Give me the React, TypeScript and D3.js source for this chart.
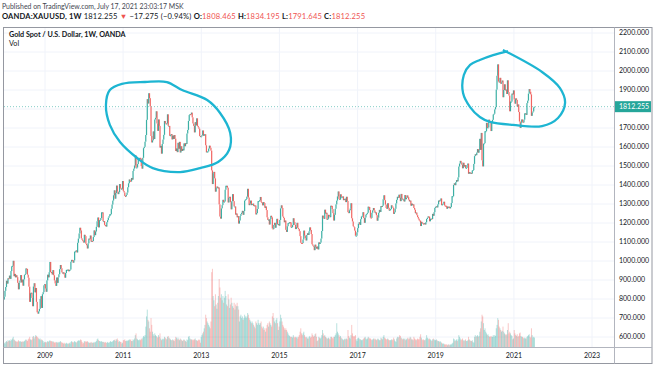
import React from 'react';
import * as d3 from 'd3';

const width = 654;
const height = 366;

// weekly closes of OANDA:XAUUSD, one value per week (Friday), first week ends 2007-12-14
const firstWeek = '2007-12-14';
const firstOpen = 803;

const close2007 = [797, 812, 843];
const close2008 = [
  863, 896, 881, 909, 908, 923, 906, 947, 972, 975, 1001, 920, 932,
  914, 925, 915, 885, 851, 886, 897, 926, 887, 902, 870, 903, 926,
  932, 961, 958, 928, 912, 865, 785, 830, 833, 806, 762, 866, 883,
  835, 858, 785, 730, 723, 735, 748, 800, 815, 753, 825, 836, 872,
];
const close2009 = [
  878, 855, 838, 898, 928, 914, 941, 995, 942, 940, 929, 952, 925,
  898, 882, 869, 913, 885, 914, 930, 957, 979, 962, 940, 934, 940,
  929, 912, 937, 953, 954, 955, 946, 952, 955, 996, 1006, 1004, 991,
  1003, 1049, 1051, 1056, 1045, 1096, 1118, 1145, 1175, 1161, 1119, 1111, 1104,
];
const close2010 = [
  1097, 1138, 1131, 1091, 1083, 1066, 1093, 1118, 1117, 1134, 1102, 1106, 1105,
  1126, 1161, 1136, 1155, 1180, 1209, 1229, 1177, 1214, 1216, 1226, 1256, 1256,
  1209, 1210, 1190, 1189, 1181, 1204, 1215, 1228, 1236, 1246, 1246, 1275, 1297,
  1318, 1346, 1372, 1328, 1358, 1397, 1366, 1352, 1362, 1405, 1385, 1378, 1380, 1421,
];
const close2011 = [
  1369, 1361, 1342, 1340, 1348, 1360, 1388, 1409, 1429, 1421, 1419, 1437,
  1428, 1474, 1486, 1503, 1556, 1491, 1492, 1510, 1536, 1542, 1543, 1539, 1500,
  1486, 1543, 1594, 1601, 1628, 1663, 1743, 1852, 1829, 1883, 1857, 1813, 1658, 1624,
  1635, 1682, 1642, 1745, 1754, 1788, 1724, 1685, 1745, 1711, 1597, 1606, 1565,
];
const close2012 = [
  1616, 1639, 1664, 1737, 1725, 1724, 1724, 1772, 1711, 1711, 1659, 1662, 1668,
  1640, 1660, 1642, 1663, 1644, 1579, 1592, 1573, 1622, 1591, 1627, 1571, 1604,
  1579, 1590, 1582, 1619, 1604, 1620, 1616, 1671, 1690, 1737, 1768, 1773, 1772,
  1781, 1756, 1724, 1711, 1677, 1731, 1714, 1751, 1711, 1704, 1696, 1658, 1656,
];
const close2013 = [
  1656, 1662, 1687, 1659, 1667, 1667, 1609, 1572, 1576, 1577, 1592, 1607, 1596,
  1581, 1477, 1405, 1462, 1469, 1435, 1365, 1386, 1392, 1383, 1387, 1298, 1234,
  1223, 1277, 1294, 1322, 1310, 1313, 1375, 1396, 1396, 1386, 1308, 1333, 1338,
  1309, 1272, 1315, 1352, 1315, 1287, 1287, 1244, 1250, 1230, 1236, 1197, 1213,
];
const close2014 = [
  1237, 1247, 1254, 1264, 1243, 1263, 1318, 1323, 1326, 1339, 1380, 1334, 1294,
  1302, 1318, 1294, 1300, 1302, 1290, 1293, 1292, 1245, 1252, 1274, 1315, 1316,
  1320, 1337, 1310, 1307, 1293, 1310, 1305, 1280, 1287, 1268, 1230, 1216, 1218,
  1192, 1221, 1238, 1230, 1171, 1168, 1190, 1201, 1175, 1191, 1222, 1195, 1195,
];
const close2015 = [
  1186, 1216, 1277, 1293, 1279, 1234, 1227, 1204, 1213, 1164, 1153, 1183, 1199,
  1201, 1204, 1203, 1177, 1179, 1189, 1225, 1205, 1190, 1168, 1179, 1201, 1173,
  1168, 1157, 1131, 1096, 1095, 1094, 1113, 1160, 1134, 1121, 1108, 1137, 1146,
  1137, 1156, 1177, 1163, 1142, 1088, 1081, 1076, 1057, 1086, 1075, 1065, 1076,
];
const close2016 = [
  1061, 1098, 1090, 1097, 1118, 1158, 1239, 1227, 1222, 1270, 1250, 1254, 1217,
  1222, 1243, 1235, 1231, 1291, 1290, 1273, 1252, 1213, 1243, 1275, 1298, 1318,
  1340, 1366, 1327, 1323, 1351, 1335, 1336, 1340, 1320, 1326, 1328, 1310, 1338, 1316,
  1257, 1252, 1267, 1276, 1304, 1225, 1208, 1183, 1178, 1160, 1133, 1133, 1151,
];
const close2017 = [
  1173, 1196, 1204, 1190, 1220, 1234, 1238, 1257, 1226, 1201, 1229, 1244, 1248,
  1254, 1286, 1284, 1268, 1228, 1227, 1254, 1267, 1279, 1266, 1254, 1256, 1241,
  1212, 1228, 1254, 1269, 1258, 1289, 1285, 1291, 1325, 1346, 1320, 1297, 1279,
  1275, 1304, 1280, 1266, 1269, 1274, 1293, 1287, 1280, 1248, 1256, 1275, 1303,
];
const close2018 = [
  1322, 1338, 1333, 1349, 1333, 1315, 1353, 1330, 1323, 1324, 1313, 1347, 1325,
  1332, 1345, 1336, 1323, 1314, 1318, 1291, 1302, 1294, 1298, 1279, 1270, 1252,
  1255, 1241, 1231, 1223, 1214, 1212, 1184, 1206, 1201, 1197, 1194, 1199, 1192,
  1204, 1221, 1227, 1235, 1233, 1209, 1222, 1223, 1221, 1248, 1238, 1257, 1280,
];
const close2019 = [
  1285, 1288, 1282, 1298, 1318, 1314, 1322, 1329, 1294, 1298, 1302, 1312, 1292,
  1291, 1290, 1275, 1286, 1280, 1286, 1277, 1284, 1305, 1341, 1341, 1400, 1409,
  1399, 1415, 1426, 1419, 1440, 1497, 1513, 1527, 1520, 1507, 1488, 1517, 1497,
  1505, 1489, 1490, 1505, 1513, 1459, 1468, 1462, 1464, 1460, 1476, 1479, 1511,
];
const close2020 = [
  1552, 1562, 1557, 1571, 1589, 1570, 1584, 1643, 1585, 1674, 1530, 1498, 1617,
  1620, 1683, 1683, 1727, 1700, 1703, 1744, 1735, 1730, 1684, 1730, 1743, 1771,
  1775, 1798, 1810, 1902, 1975, 2035, 1944, 1940, 1964, 1933, 1940, 1950, 1862,
  1900, 1930, 1899, 1902, 1879, 1951, 1889, 1871, 1788, 1839, 1839, 1881, 1877,
];
const close2021 = [
  1898, 1850, 1828, 1856, 1848, 1813, 1824, 1784, 1734, 1700, 1727, 1745, 1733,
  1729, 1744, 1777, 1777, 1769, 1831, 1844, 1881, 1905, 1891, 1877, 1764, 1781,
  1787, 1808, 1812.255,
];

// weekly volume (relative units)
const vol2007 = [6, 5, 4];
const vol2008 = [
  6, 7, 6, 8, 7, 8, 7, 9, 8, 10, 12, 9, 8, 7, 6, 7, 6, 8, 7, 6, 7, 6, 6, 7, 6, 7,
  8, 9, 8, 7, 9, 10, 12, 9, 8, 9, 12, 13, 10, 12, 14, 13, 12, 11, 10, 9, 10, 8, 9, 8, 7, 5,
];
const vol2009 = [
  6, 6, 5, 6, 7, 6, 7, 8, 7, 7, 6, 7, 6, 5, 6, 5, 6, 5, 6, 5, 6, 7, 6, 5, 5, 4,
  5, 4, 4, 5, 4, 4, 4, 5, 4, 6, 7, 6, 5, 6, 7, 6, 5, 6, 7, 8, 7, 8, 9, 8, 6, 4,
];
const vol2010 = [
  5, 7, 6, 7, 6, 7, 6, 5, 5, 5, 6, 5, 5, 5, 6, 5, 6, 7, 9, 10, 8, 7, 7, 6, 7, 6,
  6, 6, 5, 6, 5, 5, 6, 5, 5, 6, 7, 6, 6, 7, 8, 8, 9, 7, 9, 10, 8, 6, 7, 6, 6, 4, 5,
];
const vol2011 = [
  8, 8, 9, 7, 7, 8, 7, 8, 9, 8, 9, 7, 7, 9, 8, 10, 14, 16, 10, 9, 8, 8, 9, 8, 10,
  9, 11, 13, 12, 14, 24, 36, 44, 32, 30, 22, 18, 34, 26, 18, 15, 13, 16, 14, 13, 12, 11, 14, 12, 16, 10, 8,
];
const vol2012 = [
  9, 10, 9, 12, 11, 10, 9, 12, 13, 11, 10, 9, 8, 8, 9, 8, 7, 9, 12, 11, 9, 11, 9, 8, 10, 9,
  8, 7, 8, 9, 8, 7, 6, 9, 8, 12, 13, 10, 9, 9, 8, 9, 8, 9, 10, 8, 8, 7, 8, 9, 8, 5,
];
const vol2013 = [
  12, 14, 16, 18, 22, 26, 38, 34, 30, 28, 26, 24, 22, 30, 88, 92, 60, 55, 48, 62, 50, 45, 52, 60, 80, 70,
  58, 62, 55, 60, 52, 58, 66, 60, 50, 48, 62, 56, 46, 50, 58, 52, 48, 46, 52, 44, 50, 48, 52, 48, 44, 30,
];
const vol2014 = [
  36, 38, 34, 36, 32, 34, 38, 36, 34, 36, 40, 38, 34, 32, 30, 28, 30, 28, 26, 24, 22, 30, 28, 26, 32, 28,
  26, 28, 30, 24, 22, 24, 20, 22, 18, 22, 26, 28, 24, 30, 28, 26, 24, 36, 40, 34, 30, 28, 32, 34, 28, 20,
];
const vol2015 = [
  24, 30, 38, 34, 30, 26, 24, 22, 20, 22, 20, 18, 16, 14, 13, 12, 12, 12, 11, 14, 12, 11, 12, 11, 12, 10,
  12, 14, 18, 22, 16, 14, 16, 18, 14, 12, 11, 12, 10, 10, 12, 13, 11, 12, 16, 14, 12, 13, 15, 16, 12, 7,
];
const vol2016 = [
  8, 12, 11, 10, 11, 14, 20, 16, 13, 14, 12, 11, 10, 10, 11, 10, 9, 12, 12, 11, 10, 12, 12, 14, 16, 28,
  18, 16, 14, 12, 13, 11, 10, 9, 8, 9, 10, 9, 10, 9, 20, 13, 11, 10, 14, 26, 16, 13, 12, 13, 14, 9, 7,
];
const vol2017 = [
  10, 11, 10, 9, 9, 8, 8, 9, 10, 11, 12, 10, 9, 10, 12, 11, 10, 10, 9, 8, 9, 10, 9, 10, 9, 8,
  9, 10, 9, 8, 8, 11, 10, 9, 12, 14, 11, 10, 9, 9, 10, 9, 8, 8, 8, 9, 8, 9, 11, 9, 7, 6,
];
const vol2018 = [
  10, 12, 11, 12, 14, 13, 11, 10, 9, 10, 9, 10, 8, 9, 10, 11, 9, 10, 12, 11, 9, 9, 8, 12, 10, 9,
  8, 9, 10, 9, 9, 12, 15, 11, 9, 8, 9, 8, 8, 10, 14, 11, 10, 9, 10, 9, 8, 7, 9, 10, 9, 8,
];
const vol2019 = [
  8, 9, 8, 7, 7, 6, 7, 6, 5, 4, 4, 4, 3, 3, 3, 3, 2, 3, 3, 2, 3, 3, 4, 5, 10, 9,
  7, 8, 9, 7, 9, 14, 12, 10, 8, 9, 10, 8, 7, 8, 9, 7, 7, 8, 12, 9, 8, 7, 7, 8, 6, 5,
];
const vol2020 = [
  12, 14, 12, 13, 14, 12, 13, 18, 22, 30, 38, 36, 28, 20, 22, 18, 16, 14, 15, 13, 12, 12, 13, 12, 12, 14,
  12, 14, 13, 22, 26, 34, 32, 24, 22, 20, 18, 19, 24, 18, 16, 15, 14, 15, 20, 28, 16, 18, 16, 14, 13, 9,
];
const vol2021 = [
  10, 20, 16, 14, 13, 15, 12, 13, 16, 17, 13, 12, 12, 11, 10, 11, 10, 10, 12, 13, 14, 15, 12, 11, 22, 14,
  11, 12, 11,
];

const closes = [
  ...close2007, ...close2008, ...close2009, ...close2010, ...close2011, ...close2012, ...close2013,
  ...close2014, ...close2015, ...close2016, ...close2017, ...close2018, ...close2019, ...close2020, ...close2021,
];
const volumes = [
  ...vol2007, ...vol2008, ...vol2009, ...vol2010, ...vol2011, ...vol2012, ...vol2013,
  ...vol2014, ...vol2015, ...vol2016, ...vol2017, ...vol2018, ...vol2019, ...vol2020, ...vol2021,
];

const yearTicks = [2009, 2011, 2013, 2015, 2017, 2019, 2021, 2023];
const priceTicks = [600, 700, 800, 900, 1000, 1100, 1200, 1300, 1400, 1500, 1600, 1700, 1800, 1900, 2000, 2100, 2200];
const lastPrice = 1812.255;

// hand-drawn annotation loops, [year fraction, price]
const loop2011 = [
  [2012.12, 1942], [2012.51, 1900], [2013.15, 1847], [2013.48, 1779], [2013.74, 1674],
  [2013.71, 1584], [2013.43, 1521], [2012.97, 1489], [2012.46, 1468], [2011.76, 1489],
  [2011.36, 1542], [2010.92, 1626], [2010.66, 1716], [2010.56, 1821], [2010.66, 1900],
  [2010.97, 1932], [2011.56, 1942],
];
const loop2020 = [
  [2020.72, 2111], [2021.72, 1995], [2022.18, 1910], [2022.31, 1832], [2022.13, 1753],
  [2021.72, 1710], [2020.98, 1716], [2020.39, 1732], [2020.13, 1758], [2019.88, 1810],
  [2019.70, 1884], [2019.72, 1979], [2019.88, 2032], [2020.13, 2058], [2020.47, 2084],
  [2020.85, 2105],
];

const pane = { left: 4, right: 614, top: 28, bottom: 347 };
const up = '#26a69a';
const down = '#ef5350';
const font = "Lato, 'Noto Sans', sans-serif";
const text = '#131722';

const fromYear = (t: number) => {
  const yr = Math.floor(t);
  return new Date(Date.UTC(yr, 0, 1) + (t - yr) * 365.25 * 864e5);
};

const App = () => {
  const x = d3.scaleUtc()
    .domain([new Date(Date.UTC(2009, 0, 1)), new Date(Date.UTC(2023, 0, 1))])
    .range([45, 592]);
  const y = d3.scaleLinear().domain([600, 2200]).range([337, 33]);
  const v = d3.scaleLinear().domain([0, 100]).range([0, 85]);

  const start = d3.utcParse('%Y-%m-%d')(firstWeek) as Date;
  const candles = closes.map((c, i) => {
    const mon = d3.utcDay.offset(start, i * 7 - 4);
    const o = i === 0 ? firstOpen : closes[i - 1];
    return { x: x(mon), o, c, vol: volumes[i] ?? 0, isUp: c >= o };
  });

  const loopLine = d3.line<number[]>()
    .x(d => x(fromYear(d[0])))
    .y(d => y(d[1]));

  const yLast = y(lastPrice);

  return (
    <div style={{ position: 'absolute', left: 0, top: 0 }}>
      <svg width={width} height={height} style={{ display: 'block', background: '#fff' }} fontFamily={font}>
        <defs>
          <clipPath id="pane">
            <rect x={pane.left} y={pane.top} width={pane.right - pane.left} height={pane.bottom - pane.top} />
          </clipPath>
        </defs>

        {/* header */}
        <text x={2} y={8.5} fontSize={6.9} fill="#434651">
          Published on TradingView.com, July 17, 2021 23:03:17 MSK
        </text>
        <text x={2} y={19} fontSize={7.6} fill={text} style={{ whiteSpace: 'pre' }} letterSpacing={0.15}>
          <tspan fontWeight={700}>OANDA:XAUUSD, 1W</tspan>
          <tspan>{' 1812.255 '}</tspan>
          <tspan fill={down}>▼</tspan>
          <tspan>{' −17.275 (−0.94%) '}</tspan>
          <tspan fontWeight={700}>O:</tspan><tspan fill={down}>{'1808.465 '}</tspan>
          <tspan fontWeight={700}>H:</tspan><tspan fill={down}>{'1834.195 '}</tspan>
          <tspan fontWeight={700}>L:</tspan><tspan fill={down}>{'1791.645 '}</tspan>
          <tspan fontWeight={700}>C:</tspan><tspan fill={down}>1812.255</tspan>
        </text>

        {/* grid */}
        {priceTicks.map(p => (
          <line key={'h' + p} x1={pane.left} x2={pane.right} y1={y(p)} y2={y(p)} stroke="#f0f3fa" />
        ))}
        {yearTicks.map(t => {
          const xx = x(new Date(Date.UTC(t, 0, 1)));
          return <line key={'v' + t} x1={xx} x2={xx} y1={pane.top} y2={pane.bottom} stroke="#f0f3fa" />;
        })}

        <g clipPath="url(#pane)">
          {/* volume */}
          {candles.map((d, i) => (
            <rect key={'vol' + i} x={d.x - 0.5} width={1} y={pane.bottom - v(d.vol)} height={v(d.vol)}
              fill={d.isUp ? up : down} fillOpacity={0.32} />
          ))}
          {/* candles */}
          {candles.map((d, i) => {
            const top = y(Math.max(d.o, d.c));
            const h = Math.max(1, y(Math.min(d.o, d.c)) - top);
            return <rect key={'c' + i} x={d.x - 0.6} width={1.2} y={top} height={h} fill={d.isUp ? up : down} fillOpacity={0.9} />;
          })}
          <line x1={pane.left} x2={pane.right} y1={yLast} y2={yLast} stroke={up} strokeOpacity={0.7} strokeWidth={0.8} strokeDasharray="1 2" />
        </g>

        {/* annotation loops */}
        <path d={loopLine.curve(d3.curveCatmullRomClosed)(loop2011) ?? ''} fill="none" stroke="#1db5d2" strokeWidth={2.3} />
        <path d={loopLine.curve(d3.curveCatmullRom)(loop2020) ?? ''} fill="none" stroke="#1db5d2" strokeWidth={2.3} />

        {/* legend */}
        <text x={9} y={36.5} fontSize={7.2} fontWeight={700} fill={text}>Gold Spot / U.S. Dollar, 1W, OANDA</text>
        <text x={9} y={46} fontSize={7.2} fill={text}>Vol</text>

        {/* price axis */}
        {priceTicks.filter(p => Math.abs(y(p) - yLast) > 8).map(p => (
          <text key={'pl' + p} x={619} y={y(p)} dy="0.35em" fontSize={7} fill={text}>{p.toFixed(3)}</text>
        ))}
        <rect x={615} y={yLast - 5.5} width={36} height={11} fill={up} />
        <text x={619} y={yLast} dy="0.35em" fontSize={7} fill="#fff">{lastPrice.toFixed(3)}</text>

        {/* time axis */}
        {yearTicks.map(t => (
          <text key={'xl' + t} x={x(new Date(Date.UTC(t, 0, 1)))} y={358} textAnchor="middle" fontSize={7} fill={text}>{t}</text>
        ))}

        {/* frame */}
        <rect x={3.5} y={27.5} width={648.5} height={336} fill="none" stroke="#9598a1" />
        <line x1={614.5} x2={614.5} y1={27.5} y2={363.5} stroke="#b2b5be" />
        <line x1={3.5} x2={652} y1={347.5} y2={347.5} stroke="#b2b5be" />
      </svg>
    </div>
  );
};

export default App;
